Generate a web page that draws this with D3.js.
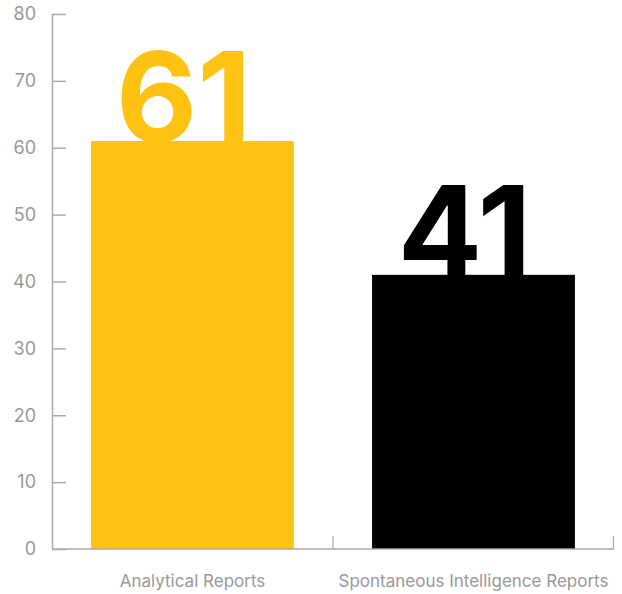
<!DOCTYPE html>
<html>
<head>
<meta charset="utf-8">
<script src="https://cdn.jsdelivr.net/npm/d3@7"></script>
<style>
  body { margin: 0; background: #fff; }
  text { font-family: Inter, "Liberation Sans", Helvetica, Arial, sans-serif; }
</style>
</head>
<body>
<div id="chart"></div>
<script>
const categories = ["Analytical Reports", "Spontaneous Intelligence Reports"];
const values = [61, 41];
const barColors = ["#FDC212", "#000000"];
const yTicks = [0, 10, 20, 30, 40, 50, 60, 70, 80];

const margin = { top: 14, right: 8, bottom: 45, left: 52 };
const W = 622, H = 594;
const width = W - margin.left - margin.right;
const height = H - margin.top - margin.bottom;

const svg = d3.select("#chart")
  .append("svg")
    .attr("width", W)
    .attr("height", H)
  .append("g")
    .attr("transform", `translate(${margin.left},${margin.top})`);

const x = d3.scaleBand()
    .domain(categories)
    .range([0, width])
    .paddingInner(0.278)
    .paddingOuter(0.139);

const y = d3.scaleLinear()
    .domain([0, 80])
    .range([height, 0]);

const axisColor = "#aaaaaa";
const labelColor = "#999999";

// bars
svg.selectAll("rect.bar")
  .data(values)
  .enter().append("rect")
    .attr("class", "bar")
    .attr("x", (d, i) => x(categories[i]))
    .attr("y", d => y(d))
    .attr("width", x.bandwidth())
    .attr("height", d => height - y(d))
    .attr("fill", (d, i) => barColors[i]);

// big value labels
svg.selectAll("text.value")
  .data(values)
  .enter().append("text")
    .attr("class", "value")
    .attr("x", (d, i) => x(categories[i]) + x.bandwidth() / 2 - 9)
    .attr("y", d => y(d) + 1)
    .attr("text-anchor", "middle")
    .style("font-size", "125px")
    .style("font-weight", "bold")
    .style("fill", (d, i) => barColors[i])
    .text(d => d);

// y axis, ticks pointing right
const yAxis = svg.append("g")
    .call(d3.axisRight(y).tickValues(yTicks).tickSize(14));
yAxis.select(".domain").attr("stroke", axisColor).attr("stroke-width", 1.5).attr("d", `M0.5,0V${height}`);
yAxis.selectAll(".tick line").attr("stroke", axisColor).attr("stroke-width", 1.5);
yAxis.selectAll(".tick text")
    .attr("x", -16)
    .attr("text-anchor", "end")
    .style("font-size", "18px")
    .style("fill", labelColor);

// x axis, ticks at band boundaries pointing up
const xg = svg.append("g").attr("transform", `translate(0,${height})`);
xg.append("line")
    .attr("x1", 0).attr("x2", width)
    .attr("stroke", axisColor).attr("stroke-width", 1.5);
const bounds = categories.map(c => x(c) + x.bandwidth() + x.step() * x.paddingInner() / 2);
xg.selectAll("line.xtick")
  .data(bounds)
  .enter().append("line")
    .attr("class", "xtick")
    .attr("x1", d => Math.min(d, width - 0.5)).attr("x2", d => Math.min(d, width - 0.5))
    .attr("y1", 0).attr("y2", -13)
    .attr("stroke", axisColor).attr("stroke-width", 1.2);
xg.selectAll("text.xlabel")
  .data(categories)
  .enter().append("text")
    .attr("class", "xlabel")
    .attr("x", d => x(d) + x.bandwidth() / 2)
    .attr("y", 38)
    .attr("text-anchor", "middle")
    .style("font-size", "17px")
    .style("fill", labelColor)
    .text(d => d);
</script>
</body>
</html>
